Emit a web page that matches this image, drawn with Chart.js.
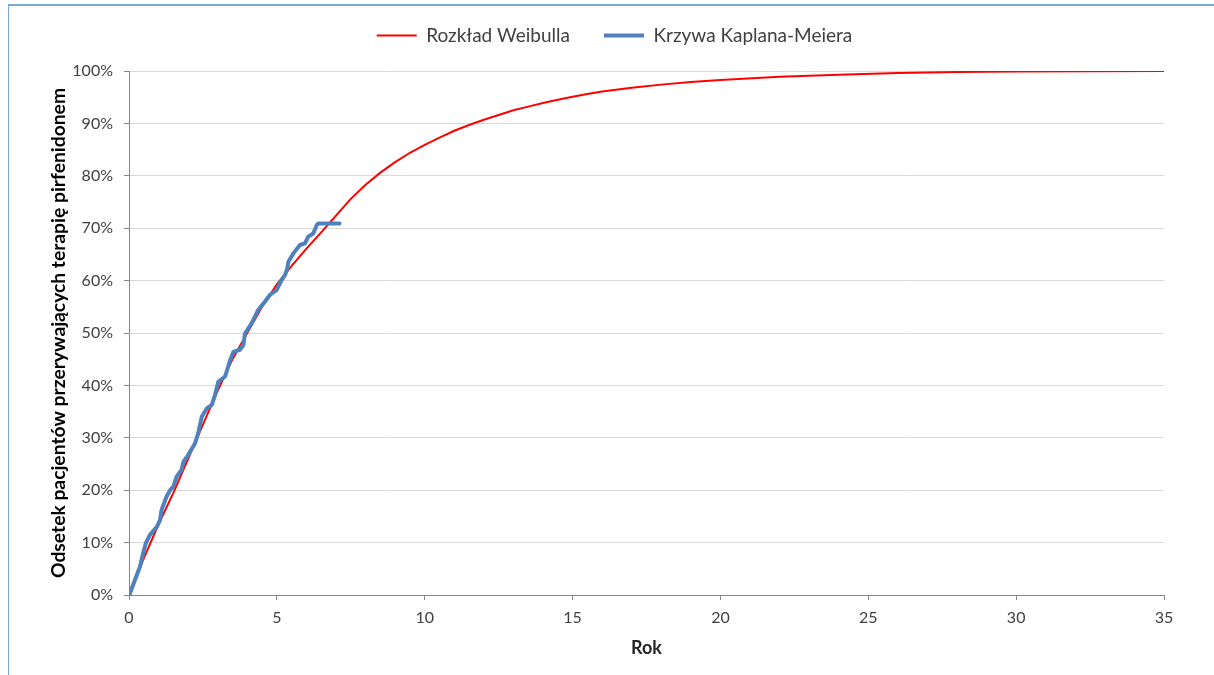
<!DOCTYPE html>
<html>
<head>
<meta charset="utf-8">
<script src="https://cdn.jsdelivr.net/npm/chart.js@4/dist/chart.umd.min.js"></script>
<style>
  html, body { margin: 0; padding: 0; background: #fff; overflow: hidden; }
  #wrap { position: relative; width: 1214px; height: 675px; }
  #frame { position: absolute; left: 8px; top: 4px; width: 1400px; height: 900px;
           border-left: 1px solid #7aa7dc; border-top: 2px solid #7aa7dc; pointer-events: none; }
</style>
</head>
<body>
<div id="wrap">
  <canvas id="c" width="1214" height="675"></canvas>
  <div id="frame"></div>
</div>
<script>
// Weibull curve (years, % of patients discontinuing)
const weibullYears = [0, 0.5, 1, 1.5, 2, 2.5, 3, 3.5, 4, 4.5, 5, 5.5, 6, 6.5, 7, 7.5, 8, 8.5, 9, 9.5, 10, 10.5, 11, 11.5, 12, 12.5, 13, 13.5, 14, 14.5, 15, 15.5, 16, 17, 18, 19, 20, 22, 24, 26, 28, 30, 35];
const weibullPct   = [0, 7, 13.5, 19.5, 26, 32.5, 39, 45, 50, 55, 59.3, 62.8, 66.1, 69.2, 72.4, 75.6, 78.3, 80.6, 82.6, 84.4, 85.9, 87.3, 88.6, 89.7, 90.7, 91.6, 92.5, 93.2, 93.9, 94.5, 95.1, 95.6, 96.1, 96.8, 97.4, 97.9, 98.3, 98.9, 99.3, 99.6, 99.8, 99.9, 100];

// Kaplan-Meier curve
const kmYears = [0, 0.03, 0.37, 0.48, 0.57, 0.71, 0.94, 1.05, 1.1, 1.27, 1.39, 1.5, 1.61, 1.78, 1.84, 2.0, 2.23, 2.34, 2.46, 2.63, 2.8, 2.91, 3.02, 3.25, 3.42, 3.53, 3.75, 3.87, 3.92, 4.15, 4.37, 4.6, 4.77, 4.99, 5.16, 5.28, 5.35, 5.39, 5.56, 5.78, 5.95, 6.06, 6.23, 6.35, 6.4, 7.12];
const kmPct   = [0, 0.3, 5.4, 8.0, 9.9, 11.5, 13.0, 14.3, 16.2, 18.8, 20.0, 20.7, 22.6, 23.9, 25.4, 26.7, 28.9, 30.9, 34.0, 35.6, 36.3, 38.2, 40.7, 41.7, 44.8, 46.4, 46.8, 47.7, 49.9, 51.9, 54.4, 56.0, 57.3, 58.2, 60.1, 61.1, 62.3, 63.6, 65.2, 66.8, 67.1, 68.4, 69.0, 70.6, 70.9, 70.9];

const seriesNames = ['Rozkład Weibulla', 'Krzywa Kaplana-Meiera'];
const xTitle = 'Rok';
const yTitle = 'Odsetek pacjentów przerywających terapię pirfenidonem';
const xMin = 0, xMax = 35, xStep = 5;
const yMin = 0, yMax = 100, yStep = 10;

const toPts = (xs, ys) => xs.map((x, i) => ({ x: x, y: ys[i] }));

const FONT = 'Lato, "Open Sans", sans-serif';
const AXIS = '#868686';

const legendGap = {
  id: 'legendGap',
  beforeInit(chart) {
    const fit = chart.legend.fit;
    chart.legend.fit = function () { fit.bind(chart.legend)(); this.height += 16; };
  },
  afterLayout(chart) {
    chart.legend.left += 9;
    chart.legend.right += 9;
  }
};

new Chart(document.getElementById('c'), {
  type: 'scatter',
  plugins: [legendGap],
  data: {
    datasets: [
      {
        label: seriesNames[0],
        data: toPts(weibullYears, weibullPct),
        showLine: true,
        borderColor: '#ff0000',
        backgroundColor: '#ff0000',
        borderWidth: 2,
        pointRadius: 0,
        tension: 0,
        order: 1
      },
      {
        label: seriesNames[1],
        data: toPts(kmYears, kmPct),
        showLine: true,
        borderColor: '#4f81bd',
        backgroundColor: '#4f81bd',
        borderWidth: 4,
        borderJoinStyle: 'round',
        borderCapStyle: 'round',
        pointRadius: 0,
        tension: 0,
        order: 0
      }
    ]
  },
  options: {
    responsive: false,
    animation: false,
    layout: { padding: { left: 47, right: 50, top: -8, bottom: 16 } },
    plugins: {
      tooltip: { enabled: false },
      legend: {
        position: 'top',
        labels: {
          usePointStyle: true,
          pointStyle: 'line',
          pointStyleWidth: 40,
          boxHeight: 17,
          padding: 34,
          color: '#404040',
          font: { family: FONT, size: 19 },
          sort: (a, b) => a.datasetIndex - b.datasetIndex
        }
      }
    },
    scales: {
      x: {
        type: 'linear',
        min: xMin, max: xMax,
        afterFit: (axis) => { axis.height = 64; },
        ticks: { stepSize: xStep, color: '#404040', padding: 8, font: { family: FONT, size: 16 } },
        grid: { drawOnChartArea: false, drawTicks: true, tickLength: 5, tickColor: AXIS },
        border: { display: true, color: AXIS, width: 1 },
        title: { display: true, text: xTitle, color: '#262626', padding: 0, font: { family: FONT, size: 18, weight: 'bold' } }
      },
      y: {
        type: 'linear',
        min: yMin, max: yMax,
        afterFit: (axis) => { axis.width = 82; },
        ticks: { stepSize: yStep, color: '#404040', padding: 11, font: { family: FONT, size: 16 },
                 callback: (v) => v + '%' },
        grid: { color: '#d9d9d9', lineWidth: 1, tickLength: 5, tickColor: AXIS },
        border: { display: true, color: AXIS, width: 1 },
        title: { display: true, text: yTitle, color: '#000000', padding: 0, font: { family: FONT, size: 19.3, weight: 'bold' } }
      }
    }
  }
});
</script>
</body>
</html>
